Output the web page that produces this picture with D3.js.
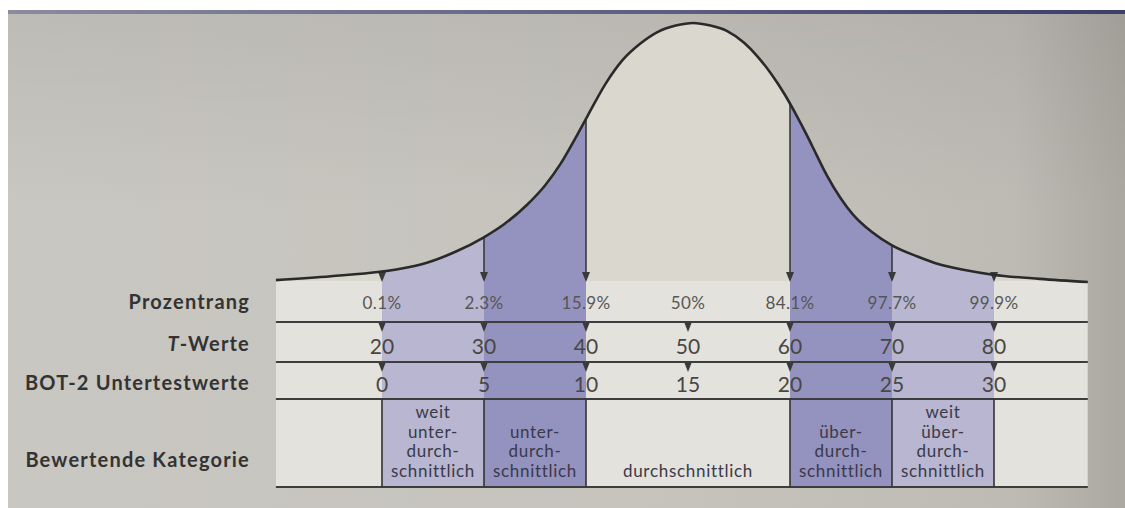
<!DOCTYPE html>
<html><head><meta charset="utf-8">
<script src="https://cdn.jsdelivr.net/npm/d3@7/dist/d3.min.js"></script>
<style>html,body{margin:0;padding:0;background:#fff;overflow:hidden}</style>
</head><body>
<svg id="c" width="1125" height="508"></svg>
<script>
// ---- data ----
const tValues = [20, 30, 40, 50, 60, 70, 80];
const percentLabels = ["0.1%", "2.3%", "15.9%", "50%", "84.1%", "97.7%", "99.9%"];
const botValues = [0, 5, 10, 15, 20, 25, 30];
const rowLabels = ["Prozentrang", "T-Werte", "BOT-2 Untertestwerte", "Bewertende Kategorie"];
const bandBounds = [9.6, 20, 30, 40, 60, 70, 80, 89.2];
const bandShade = ["plain", "light", "dark", "plain", "dark", "light", "plain"];
const categoryLines = [
  [],
  ["weit", "unter-", "durch-", "schnittlich"],
  ["unter-", "durch-", "schnittlich"],
  ["durchschnittlich"],
  ["über-", "durch-", "schnittlich"],
  ["weit", "über-", "durch-", "schnittlich"],
  []
];
// bell curve: T position and relative height
const curveT = [9.6, 15, 19.8, 21.8, 24.4, 27.2, 29.9, 32, 34.2, 36, 37.5, 39.1, 40.2, 41.9, 43.6, 45.3, 47, 48.8, 50.5,
                52.2, 53.8, 55.5, 56.8, 58.2, 59.5, 60.7, 61.7, 62.6, 63.6, 65, 66.2, 68, 70, 72.5, 74.7, 77, 79.9, 84.5, 89.2];
const curveH = [0.011, 0.026, 0.043, 0.055, 0.078, 0.12, 0.174, 0.227, 0.30, 0.376, 0.458, 0.567, 0.646, 0.765, 0.858, 0.92, 0.965, 0.99, 1.0,
                0.99, 0.97, 0.924, 0.872, 0.802, 0.724, 0.64, 0.565, 0.493, 0.415, 0.324, 0.262, 0.197, 0.145, 0.102, 0.071, 0.051, 0.032, 0.016, 0.004];

// ---- drawing ----
const svg = d3.select("#c");
const W = 1125, H = 508;
const x = d3.scaleLinear().domain([20, 80]).range([382, 994]);
const y = d3.scaleLinear().domain([0, 1]).range([283, 23]);
const hAt = d3.scaleLinear().domain(curveT).range(curveH);
const tableTop = 281, rowLines = [322, 362, 399, 487];
const colors = {
  plainTable: "#e4e2dc", plainBell: "#dad7ce",
  light: "#b8b6d0", dark: "#9492bf"
};

const defs = svg.append("defs");
const bg = defs.append("linearGradient").attr("id", "bg").attr("x1", 0).attr("x2", 1).attr("y1", 0).attr("y2", 0);
bg.append("stop").attr("offset", "0%").attr("stop-color", "#c9c7c1");
bg.append("stop").attr("offset", "60%").attr("stop-color", "#c5c3bc");
bg.append("stop").attr("offset", "90%").attr("stop-color", "#bdbbb4");
bg.append("stop").attr("offset", "100%").attr("stop-color", "#aaa8a0");
const bgV = defs.append("linearGradient").attr("id", "bgv").attr("x1", 0).attr("x2", 0).attr("y1", 0).attr("y2", 1);
bgV.append("stop").attr("offset", "0%").attr("stop-color", "#000").attr("stop-opacity", 0.06);
bgV.append("stop").attr("offset", "40%").attr("stop-color", "#000").attr("stop-opacity", 0);

svg.append("rect").attr("width", W).attr("height", H).attr("fill", "#fff");
svg.append("rect").attr("x", 8).attr("y", 12).attr("width", W - 8).attr("height", H - 12).attr("fill", "url(#bg)");
svg.append("rect").attr("x", 8).attr("y", 12).attr("width", W - 8).attr("height", H - 12).attr("fill", "url(#bgv)");
const topLine = defs.append("linearGradient").attr("id", "tl").attr("x1", 0).attr("x2", 1);
topLine.append("stop").attr("offset", "0%").attr("stop-color", "#8a8aa0");
topLine.append("stop").attr("offset", "100%").attr("stop-color", "#3c3f6c");
svg.append("rect").attr("x", 8).attr("y", 10).attr("width", W - 8).attr("height", 4).attr("fill", "url(#tl)");

const pts = curveT.map((t, i) => [t, curveH[i]]);
const area = d3.area().x(d => x(d[0])).y0(y(0)).y1(d => y(d[1])).curve(d3.curveMonotoneX);
const line = d3.line().x(d => x(d[0])).y(d => y(d[1])).curve(d3.curveMonotoneX);

// bands: fill under curve and down the table
bandShade.forEach((s, i) => {
  const a = bandBounds[i], b = bandBounds[i + 1];
  const id = "clip" + i;
  defs.append("clipPath").attr("id", id).append("rect")
    .attr("x", x(a)).attr("y", 0).attr("width", x(b) - x(a)).attr("height", H);
  const g = svg.append("g").attr("clip-path", `url(#${id})`);
  g.append("path").attr("d", area(pts)).attr("fill", s === "plain" ? colors.plainBell : colors[s]);
  g.append("rect").attr("x", x(a)).attr("y", tableTop).attr("width", x(b) - x(a)).attr("height", rowLines[3] - tableTop)
    .attr("fill", s === "plain" ? colors.plainTable : colors[s]);
});

// horizontal rules
const x0 = x(bandBounds[0]), x1 = x(bandBounds[bandBounds.length - 1]);
rowLines.forEach(ry => {
  svg.append("line").attr("x1", x0).attr("x2", x1).attr("y1", ry).attr("y2", ry)
    .attr("stroke", "#3d3d3d").attr("stroke-width", 2);
});

// vertical category separators
bandBounds.slice(1, -1).forEach(t => {
  svg.append("line").attr("x1", x(t)).attr("x2", x(t)).attr("y1", rowLines[2]).attr("y2", rowLines[3])
    .attr("stroke", "#333").attr("stroke-width", 1.6);
});

function arrowHead(cx, tipY, w, h) {
  svg.append("path").attr("d", `M${cx - w / 2},${tipY - h}L${cx + w / 2},${tipY - h}L${cx},${tipY}Z`).attr("fill", "#3a3a3a");
}
// arrows from curve down to table
tValues.forEach(t => {
  if (t === 50) return;
  const cy = y(hAt(t));
  svg.append("line").attr("x1", x(t)).attr("x2", x(t)).attr("y1", cy).attr("y2", tableTop - 6)
    .attr("stroke", "#3a3a3a").attr("stroke-width", 1.6);
  arrowHead(x(t), tableTop + 1, 8, 10);
});
// arrows hanging under row lines
[rowLines[0], rowLines[1]].forEach(ry => {
  tValues.forEach(t => arrowHead(x(t), ry + 10, 7, 9));
});

// curve
svg.append("path").attr("d", line(pts)).attr("fill", "none").attr("stroke", "#2a2a2a").attr("stroke-width", 2.6);

// values
const font = "Lato, 'Open Sans', sans-serif";
svg.append("g").selectAll("text").data(percentLabels).join("text")
  .attr("x", (d, i) => x(tValues[i])).attr("y", 309).attr("text-anchor", "middle")
  .attr("font-family", font).attr("font-size", 17).attr("letter-spacing", 0.4).attr("fill", "#565656").text(d => d);
svg.append("g").selectAll("text").data(tValues).join("text")
  .attr("x", d => x(d)).attr("y", 353.5).attr("text-anchor", "middle")
  .attr("font-family", font).attr("font-size", 21).attr("fill", "#474747").text(d => d);
svg.append("g").selectAll("text").data(botValues).join("text")
  .attr("x", (d, i) => x(tValues[i])).attr("y", 392).attr("text-anchor", "middle")
  .attr("font-family", font).attr("font-size", 21).attr("fill", "#474747").text(d => d);

// category texts
const lineBase = [418, 438, 457, 477];
categoryLines.forEach((ls, i) => {
  const cx = (x(bandBounds[i]) + x(bandBounds[i + 1])) / 2;
  ls.forEach((s, j) => {
    const k = lineBase.length - ls.length + j;
    svg.append("text").attr("x", cx).attr("y", lineBase[k]).attr("text-anchor", "middle")
      .attr("font-family", font).attr("font-size", 17).attr("letter-spacing", 0.7).attr("fill", "#3a3a4a").text(s);
  });
});

// row labels
const labelY = [309, 351, 390, 467];
rowLabels.forEach((s, i) => {
  const t = svg.append("text").attr("x", 250).attr("y", labelY[i]).attr("text-anchor", "end")
    .attr("font-family", font).attr("font-weight", "bold").attr("font-size", 20)
    .attr("letter-spacing", 1.2).attr("fill", "#333");
  if (s.startsWith("T-")) {
    t.append("tspan").attr("font-style", "italic").text("T");
    t.append("tspan").text(s.slice(1));
  } else t.text(s);
});
</script>
</body></html>
